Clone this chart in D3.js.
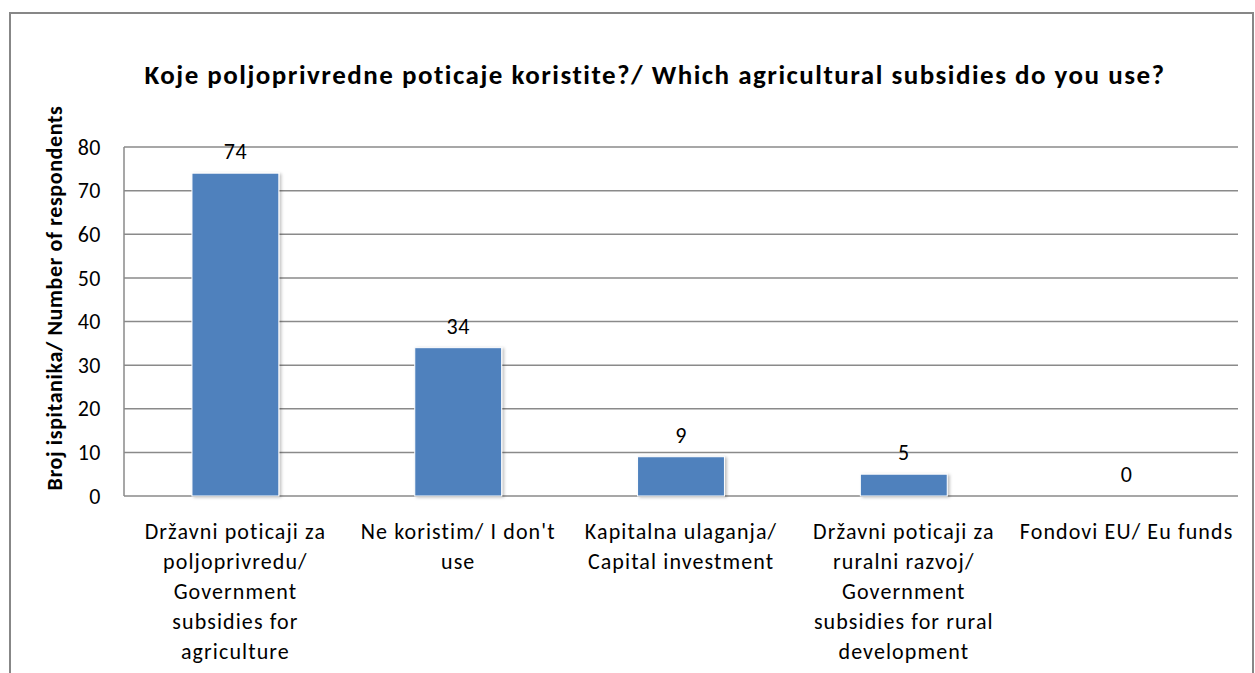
<!DOCTYPE html>
<html>
<head>
<meta charset="utf-8">
<script src="https://cdn.jsdelivr.net/npm/d3@7"></script>
<style>
  body { margin: 0; background: #fff; }
  text { font-family: Carlito, Lato, "Open Sans", sans-serif; fill: #000; }
</style>
</head>
<body>
<svg id="chart"></svg>
<script>
var chartTitle = "Koje poljoprivredne poticaje koristite?/ Which agricultural subsidies do you use?";
var yTitle = "Broj ispitanika/  Number of respondents";
var categories = [
  ["Državni poticaji za", "poljoprivredu/", "Government", "subsidies for", "agriculture"],
  ["Ne koristim/ I don't", "use"],
  ["Kapitalna ulaganja/", "Capital investment"],
  ["Državni poticaji za", "ruralni razvoj/", "Government", "subsidies for rural", "development"],
  ["Fondovi EU/ Eu funds"]
];
var values = [74, 34, 9, 5, 0];
var yTicks = [0, 10, 20, 30, 40, 50, 60, 70, 80];

var width = 1255, height = 673;
var plotLeft = 124, plotRight = 1238, plotTop = 147, plotBottom = 496;

var svg = d3.select('#chart')
  .attr("width", width)
  .attr("height", height);

// outer frame
svg.append("rect")
  .attr("x", 10).attr("y", 13)
  .attr("width", 1243).attr("height", 700)
  .attr("fill", "none")
  .attr("stroke", "#878787")
  .attr("stroke-width", 2);

var x = d3.scaleBand()
  .domain(d3.range(values.length))
  .range([plotLeft, plotRight])
  .padding(0);

var y = d3.scaleLinear()
  .domain([0, 80])
  .range([plotBottom, plotTop]);

// gridlines
svg.append("g").selectAll("line")
  .data(yTicks)
  .enter().append("line")
  .attr("x1", plotLeft).attr("x2", plotRight)
  .attr("y1", function(d) { return y(d); })
  .attr("y2", function(d) { return y(d); })
  .attr("stroke", "#8a8a8a")
  .attr("stroke-width", 1.5);

// y axis line
svg.append("line")
  .attr("x1", plotLeft).attr("x2", plotLeft)
  .attr("y1", plotTop).attr("y2", plotBottom)
  .attr("stroke", "#8a8a8a")
  .attr("stroke-width", 1.5);

// y tick labels
svg.append("g").selectAll("text")
  .data(yTicks)
  .enter().append("text")
  .attr("x", 101)
  .attr("y", function(d) { return y(d); })
  .attr("dy", "0.35em")
  .attr("text-anchor", "end")
  .style("font-size", "22px")
  .style("letter-spacing", "0.5px")
  .text(function(d) { return d; });

// bar shadow
var defs = svg.append("defs");
var f = defs.append("filter").attr("id", "shadow")
  .attr("x", "-20%").attr("y", "-20%").attr("width", "140%").attr("height", "140%");
f.append("feDropShadow")
  .attr("dx", 2).attr("dy", 1).attr("stdDeviation", 1.5)
  .attr("flood-color", "#000").attr("flood-opacity", 0.25);

var barW = x.bandwidth() * 0.39;

svg.append("g").selectAll("rect")
  .data(values)
  .enter().append("rect")
  .filter(function(d) { return d > 0; })
  .attr("x", function(d) { return x(values.indexOf(d)) + (x.bandwidth() - barW) / 2; })
  .attr("y", function(d) { return y(d); })
  .attr("width", barW)
  .attr("height", function(d) { return y(0) - y(d); })
  .attr("fill", "#4f81bd")
  .attr("stroke", "#ffffff")
  .attr("stroke-width", 1)
  .attr("filter", "url(#shadow)");

// value labels
svg.append("g").selectAll("text")
  .data(values)
  .enter().append("text")
  .attr("x", function(d, i) { return x(i) + x.bandwidth() / 2; })
  .attr("y", function(d) { return y(d) - 14; })
  .attr("text-anchor", "middle")
  .style("font-size", "22px")
  .style("letter-spacing", "0.5px")
  .text(function(d) { return d; });

// category labels
var cat = svg.append("g").selectAll("text")
  .data(categories)
  .enter().append("text")
  .attr("text-anchor", "middle")
  .style("font-size", "22px")
  .style("letter-spacing", "1.1px")
  .attr("transform", function(d, i) { return "translate(" + (x(i) + x.bandwidth() / 2) + ",539)"; });

cat.selectAll("tspan")
  .data(function(d) { return d; })
  .enter().append("tspan")
  .attr("x", 0)
  .attr("y", function(d, i) { return i * 30; })
  .text(function(d) { return d; });

// title
svg.append("text")
  .attr("x", 655).attr("y", 84)
  .attr("text-anchor", "middle")
  .style("font-size", "27px")
  .style("font-weight", "bold")
  .style("letter-spacing", "1.5px")
  .text(chartTitle);

// y axis title
svg.append("text")
  .attr("transform", "translate(62,298) rotate(-90)")
  .attr("text-anchor", "middle")
  .style("font-size", "22px")
  .style("font-weight", "bold")
  .style("letter-spacing", "0.6px")
  .text(yTitle);
</script>
</body>
</html>
